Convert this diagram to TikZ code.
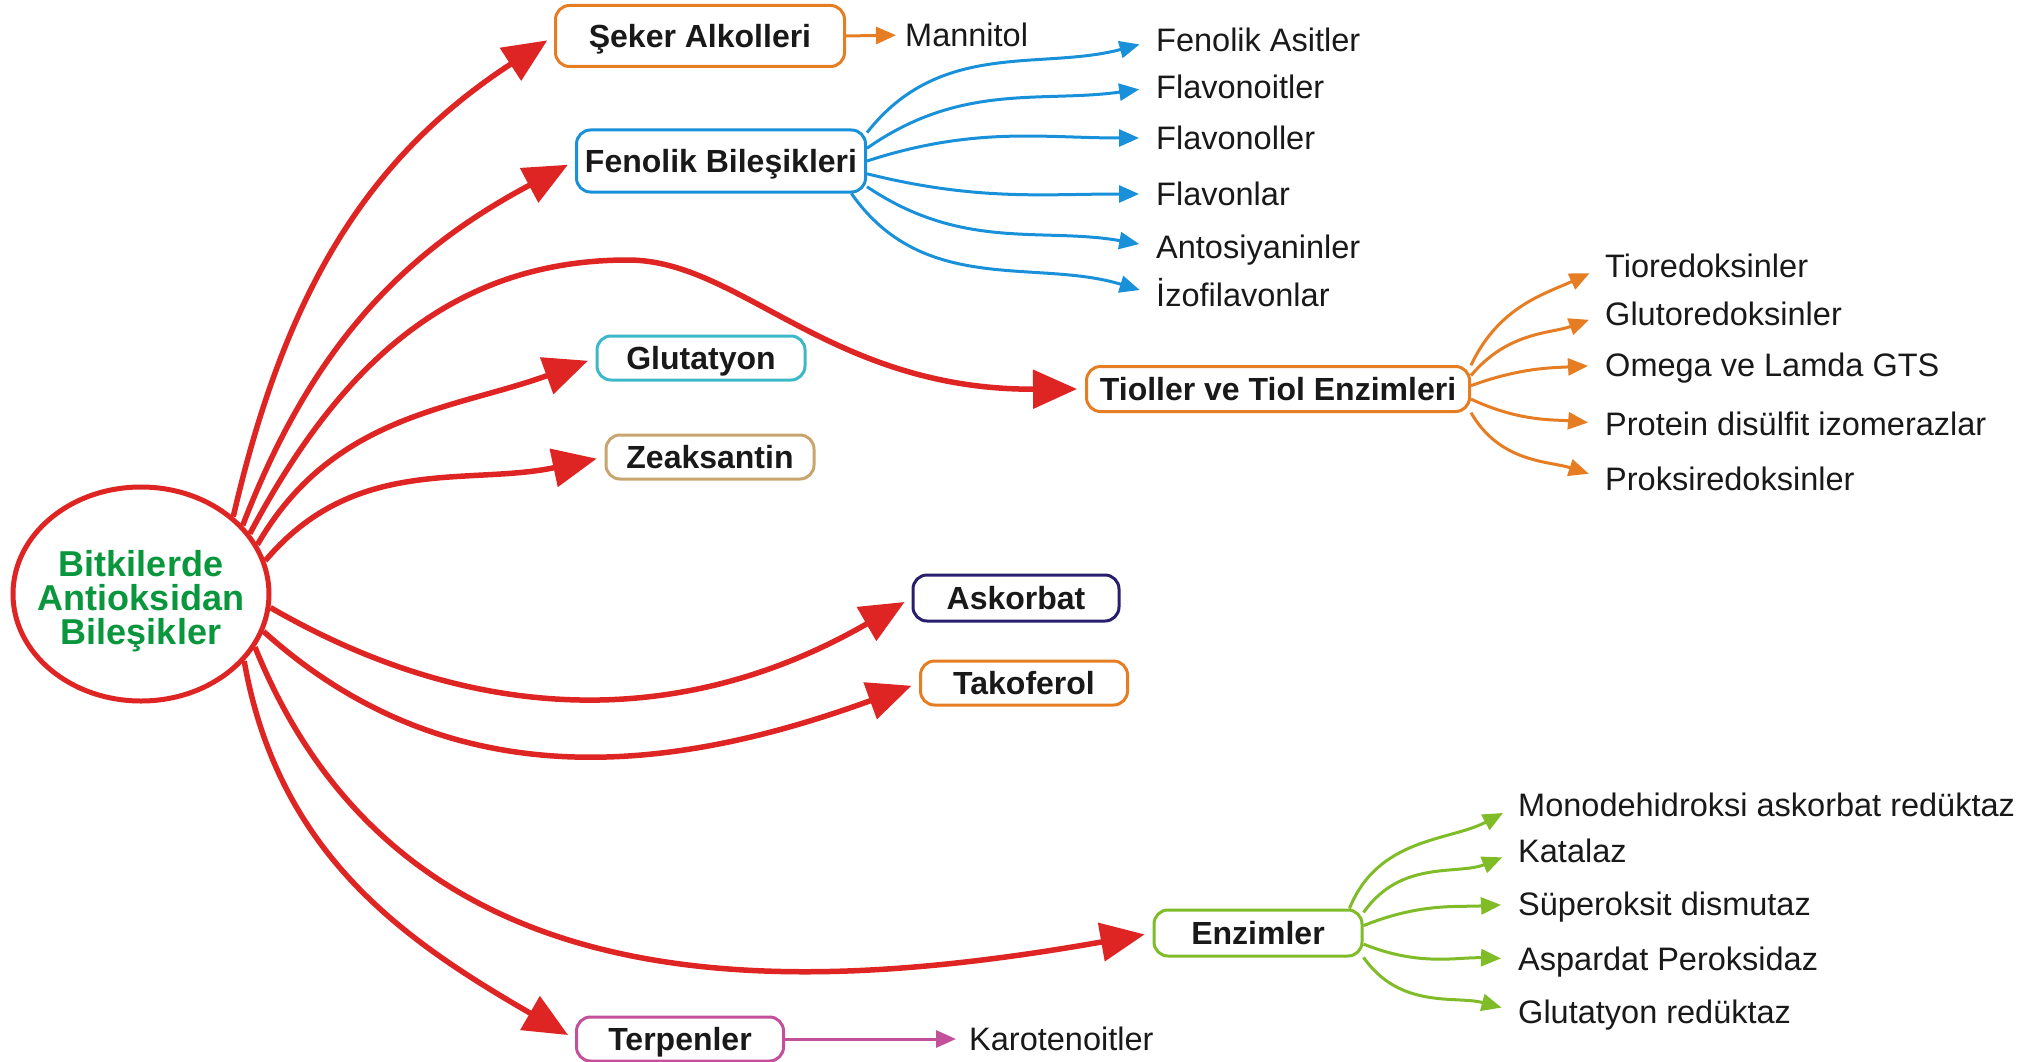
\documentclass[tikz,border=0pt]{standalone}
\usepackage{fontspec}
\setmainfont{Liberation Sans}
\usetikzlibrary{shapes.geometric,arrows.meta}
\definecolor{cred}{RGB}{222,37,35}
\definecolor{cgreen}{RGB}{10,150,60}
\definecolor{corange}{RGB}{230,125,35}
\definecolor{cblue}{RGB}{25,145,218}
\definecolor{cteal}{RGB}{60,185,200}
\definecolor{ctan}{RGB}{200,165,110}
\definecolor{cnavy}{RGB}{40,30,110}
\definecolor{clime}{RGB}{128,188,40}
\definecolor{cmag}{RGB}{195,80,155}
\definecolor{ctext}{RGB}{25,25,25}
\begin{document}
\begin{tikzpicture}[x=1pt,y=-1pt,
  box/.style={draw,line width=3pt,rounded corners=14pt,inner sep=0pt,align=center,
    text height=23pt,text depth=0pt,text=ctext,font=\fontsize{32}{34}\selectfont\bfseries},
  lbl/.style={anchor=west,inner sep=0pt,text height=23.5pt,text depth=0pt,text=ctext,
    font=\fontsize{32.5}{36}\selectfont},
  redarrow/.style={draw=cred,line width=5.5pt,-{Triangle[length=44pt,width=38pt]},shorten >=8pt},
  smallarr/.style={line width=3pt,-{Triangle[length=20pt,width=17pt]},shorten >=17pt},
]
\useasboundingbox[fill=white] (0,0) rectangle (2036,1062);

% root
\node[ellipse,draw=cred,line width=5pt,minimum width=256pt,minimum height=214pt,inner sep=0pt] (root) at (141,594) {};
\node[align=center,inner sep=0pt,text=cgreen,font=\fontsize{36}{34}\selectfont\bfseries] (roottxt) at (141,601)
  {Bitkilerde\\Antioksidan\\Bileşikler};

% boxes
\node[box,draw=corange,minimum width=289pt,minimum height=61pt] (sek) at (700,36) {Şeker Alkolleri};
\node[box,draw=cblue,minimum width=289pt,minimum height=62pt] (fen) at (721,161) {Fenolik Bileşikleri};
\node[box,draw=cteal,minimum width=208pt,minimum height=44pt] (glu) at (701,358) {Glutatyon};
\node[box,draw=ctan,minimum width=208pt,minimum height=44pt] (zea) at (710,457) {Zeaksantin};
\node[box,draw=corange,minimum width=383pt,minimum height=45pt] (tio) at (1278,389) {Tioller ve Tiol Enzimleri};
\node[box,draw=cnavy,minimum width=206pt,minimum height=46pt] (ask) at (1016,598) {Askorbat};
\node[box,draw=corange,minimum width=207pt,minimum height=44pt] (tak) at (1024,683) {Takoferol};
\node[box,draw=clime,minimum width=208pt,minimum height=46pt] (enz) at (1258,933) {Enzimler};
\node[box,draw=cmag,minimum width=207pt,minimum height=44pt] (ter) at (680,1039) {Terpenler};

% labels
\node[lbl] (man) at (905,35) {Mannitol};
\node[lbl] (kar) at (969,1039) {Karotenoitler};

\node[lbl] (b1) at (1156,40) {Fenolik Asitler};
\node[lbl] (b2) at (1156,87) {Flavonoitler};
\node[lbl] (b3) at (1156,138) {Flavonoller};
\node[lbl] (b4) at (1156,194) {Flavonlar};
\node[lbl] (b5) at (1156,247) {Antosiyaninler};
\node[lbl] (b6) at (1156,295) {İzofilavonlar};

\node[lbl] (o1) at (1605,266) {Tioredoksinler};
\node[lbl] (o2) at (1605,314) {Glutoredoksinler};
\node[lbl] (o3) at (1605,365) {Omega ve Lamda GTS};
\node[lbl] (o4) at (1605,424) {Protein disülfit izomerazlar};
\node[lbl] (o5) at (1605,479) {Proksiredoksinler};

\node[lbl] (g1) at (1518,805) {Monodehidroksi askorbat redüktaz};
\node[lbl] (g2) at (1518,851) {Katalaz};
\node[lbl] (g3) at (1518,904) {Süperoksit dismutaz};
\node[lbl] (g4) at (1518,959) {Aspardat Peroksidaz};
\node[lbl] (g5) at (1518,1012) {Glutatyon redüktaz};

% red arrows
\coordinate (pk) at (628,260);
\draw[redarrow] (root.40) to[out=77,in=213] (sek.west);
\draw[redarrow] (root.34) to[out=69,in=208] (fen.west);
\draw[redarrow] (root.29) to[out=62,in=180] (pk) .. controls (740,260) and (830,390) .. (tio.west);
\draw[redarrow] (root.23) to[out=60,in=200] (glu.west);
\draw[redarrow] (root.15) to[out=50,in=192] (zea.west);
\draw[redarrow] (root.-6) to[out=-30,in=210] (ask.west);
\draw[redarrow] (root.-17) to[out=-42,in=200] (tak.west);
\draw[redarrow] (root.-25) to[out=-68,in=190,looseness=1.05] (enz.west);
\draw[redarrow] (root.-33) to[out=-80,in=150] (ter.west);

% small arrows
\draw[smallarr,draw=corange,shorten >=9pt] (sek.east) -- (man.west);
\draw[smallarr,draw=cmag,shorten >=13pt] (ter.east) -- (kar.west);

\draw[smallarr,draw=cblue] (fen.11) to[out=52,in=195] (b1.west);
\draw[smallarr,draw=cblue] (fen.5) to[out=35,in=188] (b2.west);
\draw[smallarr,draw=cblue] (fen.-0.5) to[out=18,in=180] (b3.west);
\draw[smallarr,draw=cblue] (fen.-5) to[out=-14,in=180] (b4.west);
\draw[smallarr,draw=cblue] (fen.-10) to[out=-34,in=170] (b5.west);
\draw[smallarr,draw=cblue] (fen.-14) to[out=-55,in=163] (b6.west);

\draw[smallarr,draw=corange] (tio.7) to[out=65,in=205] (o1.west);
\draw[smallarr,draw=corange] (tio.4.8) to[out=50,in=200] (o2.west);
\draw[smallarr,draw=corange] (tio.1.8) to[out=20,in=183] (o3.west);
\draw[smallarr,draw=corange] (tio.-3.9) to[out=-25,in=175] (o4.west);
\draw[smallarr,draw=corange] (tio.-7) to[out=-60,in=162] (o5.west);

\draw[smallarr,draw=clime] (enz.15.4) to[out=68,in=208] (g1.west);
\draw[smallarr,draw=clime] (enz.11.8) to[out=55,in=202] (g2.west);
\draw[smallarr,draw=clime] (enz.4.4) to[out=22,in=183] (g3.west);
\draw[smallarr,draw=clime] (enz.-6.6) to[out=-22,in=178] (g4.west);
\draw[smallarr,draw=clime] (enz.-13) to[out=-55,in=165] (g5.west);
\end{tikzpicture}
\end{document}
